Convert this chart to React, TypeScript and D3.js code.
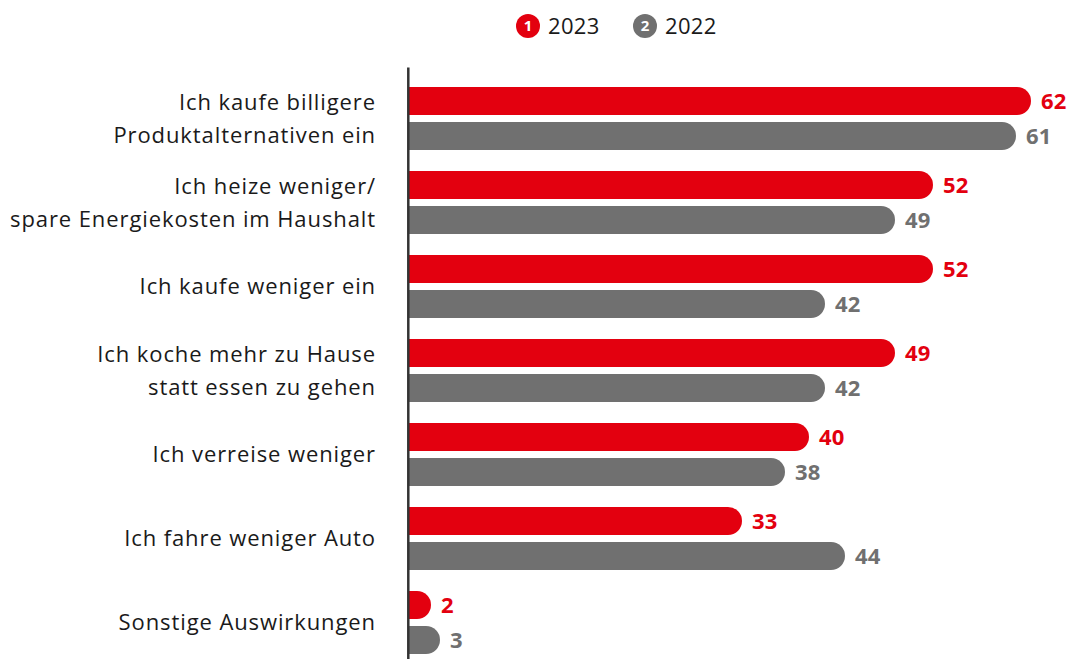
import React from "react";
import * as d3 from "d3";

const categories: string[][] = [
  ["Ich kaufe billigere", "Produktalternativen ein"],
  ["Ich heize weniger/", "spare Energiekosten im Haushalt"],
  ["Ich kaufe weniger ein"],
  ["Ich koche mehr zu Hause", "statt essen zu gehen"],
  ["Ich verreise weniger"],
  ["Ich fahre weniger Auto"],
  ["Sonstige Auswirkungen"],
];
const values2023: number[] = [62.2, 52.4, 52.4, 48.6, 40.0, 33.3, 2.2];
const values2022: number[] = [60.7, 48.6, 41.6, 41.6, 37.6, 43.6, 3.1];
const seriesNames: string[] = ["2023", "2022"];
const seriesBadges: string[] = ["1", "2"];

const RED = "#e3000f";
const GREY = "#707070";
const FONT = "'Open Sans', 'Noto Sans', sans-serif";

const W = 1068;
const H = 659;

export default function App() {
  const x = d3.scaleLinear().domain([0, 62.2]).range([409, 1031]);
  const ids = categories.map((_, i) => String(i));
  const y = d3.scaleBand().domain(ids).range([87, 87 + 84 * categories.length]).paddingInner(0);
  const sub = d3.scaleBand().domain(seriesNames).range([0, 63]).paddingInner(0.2);
  const colors = [RED, GREY];
  const series = [values2023, values2022];

  const barPath = (v: number, top: number) => {
    const h = sub.bandwidth();
    const r = h / 2;
    const x0 = x(0);
    const x1 = x(v);
    const p = d3.path();
    p.moveTo(x0, top);
    p.lineTo(Math.max(x0, x1 - r), top);
    p.arc(Math.max(x0, x1 - r), top + r, r, -Math.PI / 2, Math.PI / 2, false);
    p.lineTo(x0, top + h);
    p.closePath();
    return p.toString();
  };

  return (
    <svg width={W} height={H} style={{ position: "absolute", left: 0, top: 0, background: "#fff" }} fontFamily={FONT}>
      {/* legend */}
      {seriesNames.map((s, k) => {
        const cx = k === 0 ? 528 : 645;
        return (
          <g key={s}>
            <circle cx={cx} cy={26} r={12} fill={colors[k]} />
            <text x={cx} y={26} dy="0.36em" textAnchor="middle" fill="#fff" fontWeight={700} fontSize={15}>
              {seriesBadges[k]}
            </text>
            <text x={cx + 20} y={26} dy="0.36em" fill="#1a1a1a" fontSize={22} letterSpacing={0.3}>
              {s}
            </text>
          </g>
        );
      })}

      {categories.map((lines, i) => {
        const top = y(String(i))!;
        const mid = top + 31.5;
        return (
          <g key={i}>
            {lines.map((ln, j) => (
              <text
                key={j}
                x={376}
                y={mid + (j - (lines.length - 1) / 2) * 33}
                dy="0.36em"
                textAnchor="end"
                fill="#1a1a1a"
                fontSize={22}
                letterSpacing={0.9}
              >
                {ln}
              </text>
            ))}
            {series.map((vals, k) => {
              const bt = top + sub(seriesNames[k])!;
              return (
                <g key={k}>
                  <path d={barPath(vals[i], bt)} fill={colors[k]} />
                  <text
                    x={x(vals[i]) + 10}
                    y={bt + sub.bandwidth() / 2}
                    dy="0.36em"
                    fill={colors[k]}
                    fontWeight={700}
                    fontSize={22}
                    letterSpacing={0.2}
                  >
                    {Math.round(vals[i])}
                  </text>
                </g>
              );
            })}
          </g>
        );
      })}

      <line x1={408.3} x2={408.3} y1={67.5} y2={H} stroke="#333" strokeWidth={2.5} />
    </svg>
  );
}
